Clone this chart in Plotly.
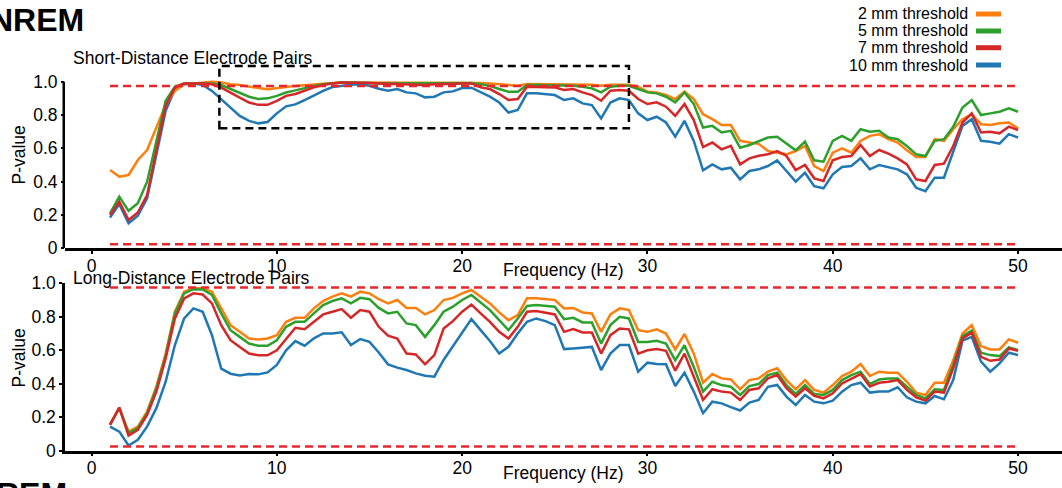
import plotly.graph_objects as go

freq = [1.0, 1.5, 2.0, 2.5, 3.0, 3.5, 4.0, 4.5, 5.0, 5.5,
        6.0, 6.5, 7.0, 7.5, 8.0, 8.5, 9.0, 9.5, 10.0, 10.5,
        11.0, 11.5, 12.0, 12.5, 13.0, 13.5, 14.0, 14.5, 15.0, 15.5,
        16.0, 16.5, 17.0, 17.5, 18.0, 18.5, 19.0, 19.5, 20.0, 20.5,
        21.0, 21.5, 22.0, 22.5, 23.0, 23.5, 24.0, 24.5, 25.0, 25.5,
        26.0, 26.5, 27.0, 27.5, 28.0, 28.5, 29.0, 29.5, 30.0, 30.5,
        31.0, 31.5, 32.0, 32.5, 33.0, 33.5, 34.0, 34.5, 35.0, 35.5,
        36.0, 36.5, 37.0, 37.5, 38.0, 38.5, 39.0, 39.5, 40.0, 40.5,
        41.0, 41.5, 42.0, 42.5, 43.0, 43.5, 44.0, 44.5, 45.0, 45.5,
        46.0, 46.5, 47.0, 47.5, 48.0, 48.5, 49.0, 49.5, 50.0]

# Short-distance electrode pairs
short_2mm = [.47, .43, .44, .53, .59, .73, .86, .945, .985, .99,
             .995, 1.0, .995, .985, .98, .97, .962, .955, .96, .968,
             .975, .98, .985, .99, .993, .995, .995, .995, .995, .993,
             .993, .993, .993, .993, .993, .993, .993, .993, .995, .995,
             .993, .99, .985, .978, .976, .986, .986, .986, .986, .986,
             .986, .986, .982, .976, .982, .982, .982, .97, .94, .936,
             .92, .896, .94, .896, .805, .775, .74, .74, .645, .635,
             .627, .584, .574, .564, .584, .614, .494, .464, .574, .60,
             .574, .645, .675, .685, .655, .635, .588, .548, .548, .655,
             .645, .715, .775, .805, .745, .74, .75, .755, .72]
short_5mm = [.21, .31, .225, .27, .40, .645, .885, .97, .99, .99,
             .99, .99, .98, .955, .93, .91, .896, .90, .915, .935,
             .948, .962, .975, .985, .99, .995, .995, .995, .993, .99,
             .99, .99, .99, .988, .988, .99, .99, .99, .992, .992,
             .985, .975, .956, .94, .94, .98, .98, .98, .98, .976,
             .976, .97, .96, .936, .97, .976, .976, .956, .936, .93,
             .91, .876, .936, .866, .725, .735, .695, .705, .604, .62,
             .643, .665, .669, .628, .588, .64, .528, .52, .645, .675,
             .645, .715, .70, .705, .665, .655, .614, .564, .554, .645,
             .655, .729, .845, .89, .80, .81, .82, .84, .82]
short_7mm = [.20, .28, .17, .215, .32, .595, .855, .965, .99, .99,
             .99, .985, .965, .935, .905, .875, .861, .861, .885, .915,
             .926, .946, .966, .98, .99, .995, .995, .995, .993, .99,
             .988, .988, .985, .983, .98, .985, .988, .988, .99, .99,
             .966, .956, .926, .89, .896, .97, .97, .966, .966, .95,
             .956, .936, .92, .886, .946, .95, .946, .896, .866, .876,
             .85, .795, .866, .77, .608, .635, .594, .615, .504, .54,
             .555, .564, .584, .554, .47, .50, .42, .404, .528, .548,
             .554, .62, .554, .59, .568, .54, .504, .414, .404, .50,
             .508, .614, .755, .81, .695, .70, .69, .73, .71]
short_10mm = [.185, .265, .15, .195, .30, .555, .825, .955, .985, .99,
              .98, .945, .895, .845, .795, .765, .75, .758, .81, .852,
              .864, .89, .92, .945, .968, .976, .982, .985, .976, .958,
              .946, .956, .936, .93, .906, .91, .936, .942, .962, .964,
              .936, .91, .875, .815, .83, .93, .93, .926, .92, .89,
              .90, .87, .86, .78, .875, .90, .89, .81, .77, .79,
              .755, .67, .765, .645, .468, .504, .474, .484, .414, .464,
              .474, .494, .528, .464, .40, .454, .373, .36, .444, .488,
              .494, .54, .474, .50, .488, .474, .444, .363, .343, .424,
              .424, .584, .735, .775, .645, .64, .628, .685, .665]

# Long-distance electrode pairs
long_2mm = [.16, .255, .114, .144, .234, .383, .58, .83, .95, .97,
            .97, .95, .85, .75, .71, .67, .665, .67, .69, .77,
            .794, .794, .85, .894, .92, .94, .92, .95, .94, .905,
            .88, .90, .853, .853, .814, .84, .90, .913, .94, .96,
            .92, .88, .826, .78, .81, .91, .91, .903, .90, .85,
            .853, .826, .82, .71, .814, .85, .84, .72, .71, .725,
            .70, .605, .697, .58, .406, .458, .432, .426, .367, .422,
            .432, .472, .492, .422, .367, .422, .363, .347, .392, .446,
            .472, .518, .446, .472, .466, .466, .412, .347, .333, .406,
            .406, .54, .70, .75, .625, .605, .605, .665, .645]
long_5mm = [.155, .257, .105, .135, .224, .373, .565, .82, .94, .965,
            .963, .93, .82, .72, .68, .64, .627, .627, .66, .74,
            .77, .77, .82, .87, .894, .91, .88, .913, .905, .853,
            .82, .83, .76, .75, .68, .75, .83, .86, .90, .93,
            .885, .84, .78, .72, .79, .865, .87, .865, .86, .786,
            .794, .766, .766, .64, .75, .80, .79, .65, .65, .657,
            .64, .54, .63, .50, .353, .412, .392, .382, .333, .386,
            .398, .452, .466, .392, .339, .392, .339, .333, .363, .422,
            .452, .472, .398, .426, .432, .432, .382, .333, .313, .367,
            .363, .512, .685, .717, .585, .571, .565, .617, .601]
long_7mm = [.154, .257, .09, .124, .214, .353, .551, .79, .91, .94,
            .933, .88, .75, .66, .62, .58, .57, .57, .60, .67,
            .734, .726, .77, .814, .83, .846, .794, .84, .83, .74,
            .687, .67, .58, .575, .516, .571, .73, .774, .83, .873,
            .82, .77, .71, .67, .74, .83, .834, .826, .814, .71,
            .726, .706, .706, .58, .69, .73, .725, .58, .60, .607,
            .597, .478, .58, .442, .303, .367, .353, .347, .303, .363,
            .373, .432, .452, .373, .323, .373, .327, .313, .343, .402,
            .432, .458, .383, .406, .412, .422, .363, .319, .299, .353,
            .347, .492, .671, .705, .561, .537, .545, .611, .597]
long_10mm = [.144, .114, .031, .065, .144, .254, .412, .631, .79, .85,
             .83, .69, .49, .46, .45, .458, .456, .468, .512, .60,
             .655, .627, .671, .70, .70, .707, .631, .667, .65, .587,
             .516, .496, .482, .462, .448, .442, .542, .621, .70, .786,
             .72, .655, .58, .621, .70, .77, .79, .774, .75, .607,
             .611, .615, .62, .482, .58, .631, .631, .472, .526, .518,
             .516, .387, .466, .353, .224, .293, .283, .26, .24, .287,
             .303, .382, .393, .323, .273, .333, .293, .283, .299, .353,
             .392, .406, .347, .353, .353, .379, .319, .293, .283, .327,
             .307, .422, .657, .68, .532, .472, .522, .585, .571]

series_names = ["2 mm threshold", "5 mm threshold", "7 mm threshold", "10 mm threshold"]
series_colors = ["#ff7f0e", "#2ca02c", "#d62728", "#1f77b4"]
sig_levels = [0.975, 0.025]
sig_range = [1, 50]
zoom_box_x = [6.9, 29]
zoom_box_y = [0.72, 1.094]
xticks = [0, 10, 20, 30, 40, 50]
yticks = [0, 0.2, 0.4, 0.6, 0.8, 1.0]
yticklabels = ["0", "0.2", "0.4", "0.6", "0.8", "1.0"]

FONT = "Arial, 'Liberation Sans', sans-serif"
DASH_RED = "#e8272c"

fig = go.Figure()

panels = [
    ("x", "y", [short_2mm, short_5mm, short_7mm, short_10mm]),
    ("x2", "y2", [long_2mm, long_5mm, long_7mm, long_10mm]),
]
draw_order = [3, 0, 1, 2]  # blue, orange, green, red (red on top)
for xa, ya, data in panels:
    for k in draw_order:
        fig.add_trace(go.Scatter(
            x=freq, y=data[k], mode="lines", name=series_names[k],
            line=dict(color=series_colors[k], width=2.5),
            xaxis=xa, yaxis=ya, showlegend=False, hoverinfo="skip"))
    for lvl in sig_levels:
        fig.add_trace(go.Scatter(
            x=sig_range, y=[lvl, lvl], mode="lines",
            line=dict(color=DASH_RED, width=2.5, dash="8px,5px"),
            xaxis=xa, yaxis=ya, showlegend=False, hoverinfo="skip"))

xr = [-1.43, 52.37]
tickfont = dict(family=FONT, size=17.5, color="black")
axis_common = dict(showgrid=False, zeroline=False, showline=True, linecolor="black",
                   linewidth=2.5, ticks="outside", ticklen=3, tickwidth=2, tickcolor="black",
                   tickfont=tickfont, automargin=False)
xaxis_common = dict(axis_common, ticklabelstandoff=-3)

fig.update_layout(
    width=1062, height=488,
    margin=dict(l=65, r=0, t=0, b=0, autoexpand=False),
    showlegend=False,
    paper_bgcolor="white", plot_bgcolor="white",
    xaxis=dict(domain=[0, 1], range=xr, tickvals=xticks, anchor="y", **xaxis_common),
    yaxis=dict(domain=[0.4912, 0.8701], range=[0, 1.11], tickvals=yticks, ticktext=yticklabels,
               anchor="x", showgrid=False, zeroline=False, showline=False, automargin=False,
               ticks="outside", ticklen=3, tickwidth=2, tickcolor="black", tickfont=tickfont),
    xaxis2=dict(domain=[0, 1], range=xr, tickvals=xticks, anchor="y2", **xaxis_common),
    yaxis2=dict(domain=[0.0764, 0.4195], range=[0, 1.0], tickvals=yticks, ticktext=yticklabels,
                anchor="x2", **axis_common),
)

shapes = [
    # top panel y-axis line (0 to 1 only)
    dict(type="line", xref="paper", yref="y", x0=-0.00125, x1=-0.00125, y0=0, y1=1.0,
         line=dict(color="black", width=2.5)),
    # dashed zoom box
    dict(type="rect", xref="x", yref="y", x0=zoom_box_x[0], x1=zoom_box_x[1],
         y0=zoom_box_y[0], y1=zoom_box_y[1], line=dict(color="black", width=2.5, dash="8px,5px"),
         fillcolor="rgba(0,0,0,0)", layer="above"),
]

W = 1062 - 65  # plot width in px


def px(xpix):
    return (xpix - 65) / W


def py(ypix):
    return 1 - ypix / 488


# manual legend (text right, swatch on right)
legend_rows = [14, 31, 47.7, 65]
annotations = []
for k in range(4):
    annotations.append(dict(xref="paper", yref="paper", x=px(970), y=py(legend_rows[k]),
                            xanchor="right", yanchor="middle", text=series_names[k],
                            showarrow=False, font=dict(family=FONT, size=16, color="black")))
    shapes.append(dict(type="line", xref="paper", yref="paper", x0=px(976), x1=px(1001),
                       y0=py(legend_rows[k]), y1=py(legend_rows[k]),
                       line=dict(color=series_colors[k], width=5)))

texts = [
    dict(x=px(85), y=py(20), xanchor="right", text="<b>NREM</b>", size=32),
    dict(x=px(68), y=py(494), xanchor="right", text="<b>REM</b>", size=32),
    dict(x=px(72), y=py(58), xanchor="left", text="Short-Distance Electrode Pairs", size=17.5),
    dict(x=px(72), y=py(278), xanchor="left", text="Long-Distance Electrode Pairs", size=17.5),
    dict(x=px(563), y=py(270), xanchor="center", text="Frequency (Hz)", size=17.5),
    dict(x=px(563), y=py(473), xanchor="center", text="Frequency (Hz)", size=17.5),
]
for t in texts:
    annotations.append(dict(xref="paper", yref="paper", x=t["x"], y=t["y"], xanchor=t["xanchor"],
                            yanchor="middle", text=t["text"], showarrow=False, borderpad=0,
                            font=dict(family=FONT, size=t["size"], color="black")))
for yy in [155, 358]:
    annotations.append(dict(xref="paper", yref="paper", x=px(18.5), y=py(yy), xanchor="center",
                            yanchor="middle", text="P-value", textangle=-90, showarrow=False,
                            font=dict(family=FONT, size=17.5, color="black")))

fig.update_layout(shapes=shapes, annotations=annotations)
fig.write_html("out.html", config={"displayModeBar": False},
               post_script="document.body.style.margin='0';document.body.style.overflow='hidden';")
